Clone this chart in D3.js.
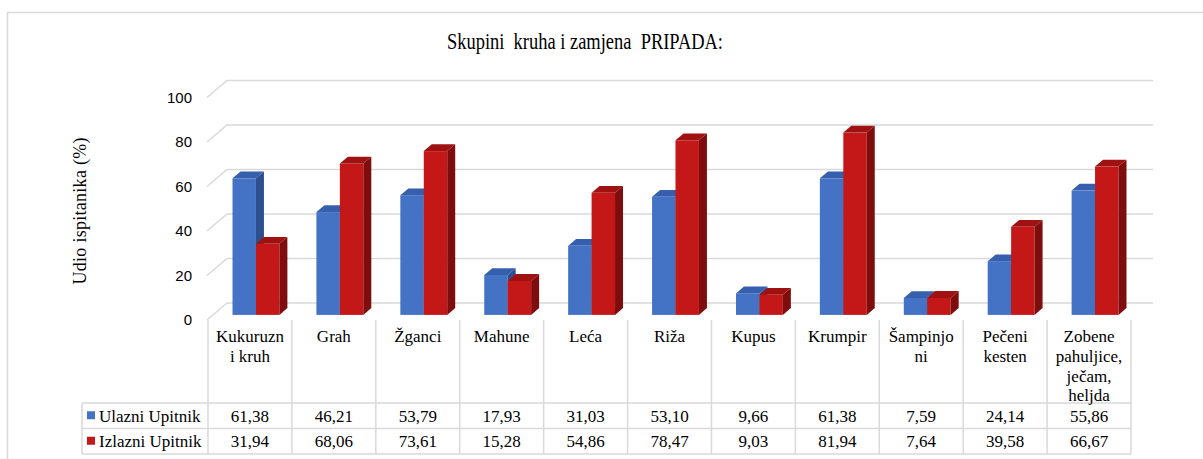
<!DOCTYPE html>
<html>
<head>
<meta charset="utf-8">
<script src="https://cdn.jsdelivr.net/npm/d3@7"></script>
<style>
  body { margin: 0; background: #fff; }
  text { white-space: pre; }
</style>
</head>
<body>
<div id="chart"></div>
<script>
// Data
var categories = ["Kukuruzni kruh", "Grah", "Žganci", "Mahune", "Leća", "Riža", "Kupus", "Krumpir", "Šampinjoni", "Pečeni kesten", "Zobene pahuljice, ječam, heljda"];
var categoryLines = [["Kukuruzn", "i kruh"], ["Grah"], ["Žganci"], ["Mahune"], ["Leća"], ["Riža"], ["Kupus"], ["Krumpir"], ["Šampinjo", "ni"], ["Pečeni", "kesten"], ["Zobene", "pahuljice,", "ječam,", "heljda"]];
var seriesNames = ["Ulazni Upitnik", "Izlazni Upitnik"];
var ulazni = [61.38, 46.21, 53.79, 17.93, 31.03, 53.10, 9.66, 61.38, 7.59, 24.14, 55.86];
var izlazni = [31.94, 68.06, 73.61, 15.28, 54.86, 78.47, 9.03, 81.94, 7.64, 39.58, 66.67];
var yTicks = [0, 20, 40, 60, 80, 100];

var seriesValues = [ulazni, izlazni];

// Colours: front, top, side
var colors = [
    { front: "#4472c4", top: "#3660ad", side: "#2d4f8e" },
    { front: "#c41717", top: "#a01212", side: "#7e0e0e" }
];

var svgWidth = 1203;
var svgHeight = 459;

var serif = "'Liberation Serif', 'Times New Roman', serif";
var sans = "'Liberation Sans', Arial, sans-serif";

// Floor / wall geometry
var left = 208, right = 1131;
var front0 = 320;          // y of value 0 on the front plane
var depthX = 20, depthY = 17;
var barF1 = 0.3, barF2 = 0.7;  // bar front / back depth fractions

var svg = d3.select("#chart")
    .append("svg")
    .attr("width", svgWidth)
    .attr("height", svgHeight);

// Outer frame
svg.append("rect")
    .attr("x", 7.5)
    .attr("y", 12.5)
    .attr("width", 1210)
    .attr("height", 470)
    .attr("fill", "none")
    .attr("stroke", "#d9d9d9")
    .attr("stroke-width", 1.5);

// Scales
var x0 = d3.scaleBand()
    .domain(categories)
    .range([left, right]);

var x1 = d3.scaleBand()
    .domain(seriesNames)
    .range([0, x0.bandwidth()])
    .paddingOuter(0.79);

var yScale = d3.scaleLinear()
    .domain([0, 100])
    .range([0, 222.5]);

// y position of a value at a given depth fraction (0 = front, 1 = back)
function yAt(v, f) {
    return front0 - yScale(v) - f * depthY;
}

// Gridlines: side wall diagonal + back wall
var grid = svg.append("g")
    .attr("stroke", "#d9d9d9")
    .attr("stroke-width", 1.5)
    .attr("fill", "none");

grid.selectAll("polyline")
    .data(yTicks)
    .enter()
    .append("polyline")
    .attr("points", function (d) {
        return [[left - 1, yAt(d, 0)], [left - 1 + depthX, yAt(d, 1)], [right + depthX + 2, yAt(d, 1)]].join(" ");
    });

// Y tick labels
svg.append("g")
    .selectAll("text")
    .data(yTicks)
    .enter()
    .append("text")
    .attr("x", 192)
    .attr("y", d => yAt(d, 0))
    .attr("dy", "0.35em")
    .attr("text-anchor", "end")
    .attr("font-family", sans)
    .attr("font-size", 15)
    .attr("fill", "#000")
    .text(d => d);

// Y axis title
svg.append("text")
    .attr("transform", "translate(86, 211) rotate(-90)")
    .attr("text-anchor", "middle")
    .attr("font-family", serif)
    .attr("font-size", 18)
    .attr("textLength", 147)
    .text("Udio ispitanika (%)");

// Chart title
svg.append("text")
    .attr("x", 585)
    .attr("y", 49)
    .attr("text-anchor", "middle")
    .attr("textLength", 276)
    .attr("lengthAdjust", "spacingAndGlyphs")
    .attr("font-family", serif)
    .attr("font-size", 24)
    .text("Skupini  kruha i zamjena  PRIPADA:");

// Bars, drawn left to right so the right-hand faces overlap properly
var fx1 = barF1 * depthX;
var bdx = (barF2 - barF1) * depthX, bdy = (barF2 - barF1) * depthY;

var bars = svg.append("g");
categories.forEach(function (cat, i) {
    seriesNames.forEach(function (s, j) {
        var v = seriesValues[j][i];
        var xl = x0(cat) + x1(s) + fx1;
        var w = x1.bandwidth();
        var yt = yAt(v, barF1);
        var yb = yAt(0, barF1);
        var c = colors[j];

        bars.append("rect")
            .attr("x", xl)
            .attr("y", yt)
            .attr("width", w)
            .attr("height", yb - yt)
            .attr("fill", c.front);

        bars.append("polygon")
            .attr("points", [[xl, yt], [xl + w, yt], [xl + w + bdx, yt - bdy], [xl + bdx, yt - bdy]].join(" "))
            .attr("fill", c.top);

        bars.append("polygon")
            .attr("points", [[xl + w, yt], [xl + w + bdx, yt - bdy], [xl + w + bdx, yb - bdy], [xl + w, yb]].join(" "))
            .attr("fill", c.side);
    });
});

// Data table
var rowTop = 403, rowH = 25.5;
var tableBottom = rowTop + 2 * rowH;
var legendLeft = 82;

var table = svg.append("g")
    .attr("stroke", "#d9d9d9")
    .attr("stroke-width", 1.5);

var colEdges = categories.map(c => x0(c)).concat([right]);
table.selectAll(".vline")
    .data(colEdges)
    .enter()
    .append("line")
    .attr("class", "vline")
    .attr("x1", d => d)
    .attr("x2", d => d)
    .attr("y1", front0)
    .attr("y2", tableBottom);

table.append("line")
    .attr("x1", legendLeft).attr("x2", legendLeft)
    .attr("y1", rowTop).attr("y2", tableBottom);

table.selectAll(".hline")
    .data([rowTop, rowTop + rowH, tableBottom])
    .enter()
    .append("line")
    .attr("class", "hline")
    .attr("x1", legendLeft)
    .attr("x2", right)
    .attr("y1", d => d)
    .attr("y2", d => d);

// Category labels (wrapped)
var catText = svg.append("g")
    .attr("font-family", serif)
    .attr("font-size", 17)
    .selectAll("text")
    .data(categories)
    .enter()
    .append("text")
    .attr("text-anchor", "middle");

catText.selectAll("tspan")
    .data((d, i) => categoryLines[i].map(l => ({ line: l, cat: d })))
    .enter()
    .append("tspan")
    .attr("x", d => x0(d.cat) + x0.bandwidth() / 2)
    .attr("y", (d, k) => 342 + k * 19.8)
    .text(d => d.line);

// Legend keys + names, then the value rows
seriesNames.forEach(function (s, j) {
    var cy = rowTop + rowH * j + rowH / 2;
    svg.append("rect")
        .attr("x", 87)
        .attr("y", cy - 4.5)
        .attr("width", 8)
        .attr("height", 8)
        .attr("fill", colors[j].front);
    svg.append("text")
        .attr("x", 99)
        .attr("y", cy + 6)
        .attr("font-family", serif)
        .attr("font-size", 17)
        .text(s);

    svg.append("g")
        .attr("font-family", serif)
        .attr("font-size", 17)
        .selectAll("text")
        .data(seriesValues[j])
        .enter()
        .append("text")
        .attr("x", (d, i) => x0(categories[i]) + x0.bandwidth() / 2)
        .attr("y", cy + 6)
        .attr("text-anchor", "middle")
        .text(d => d.toFixed(2).replace(".", ","));
});
</script>
</body>
</html>
